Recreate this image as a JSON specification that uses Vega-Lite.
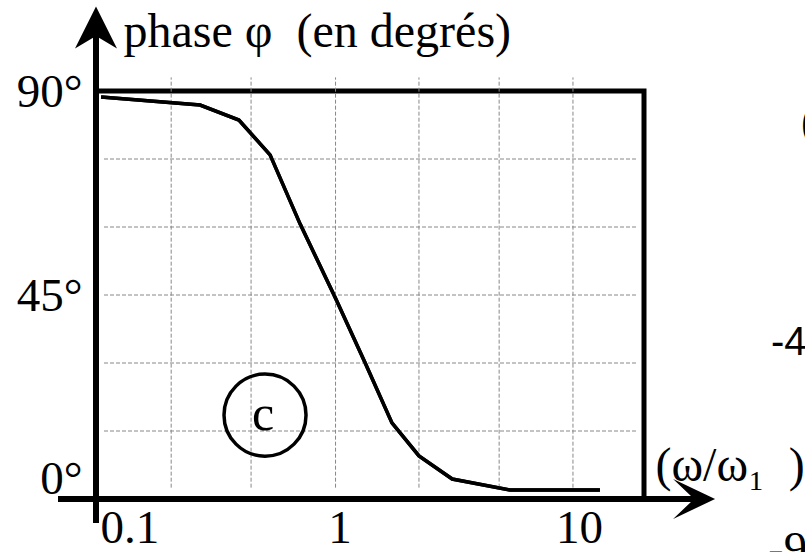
{
  "$schema": "https://vega.github.io/schema/vega-lite/v6.json",
  "width": 548,
  "height": 408,
  "autosize": {"type": "none"},
  "padding": {"left": 96, "top": 91, "right": 161, "bottom": 53},
  "background": "white",
  "config": {
    "view": {"stroke": "black", "strokeWidth": 5},
    "font": "Liberation Serif"
  },
  "datasets": {
    "curve": [
      {"x": 0.105, "y": 88.7}, {"x": 0.272, "y": 86.9}, {"x": 0.395, "y": 83.6},
      {"x": 0.533, "y": 75.9}, {"x": 0.711, "y": 60.7}, {"x": 1.0, "y": 44.3},
      {"x": 1.33, "y": 30.0}, {"x": 1.72, "y": 16.8}, {"x": 2.23, "y": 9.5},
      {"x": 3.07, "y": 4.4}, {"x": 5.35, "y": 2.0}, {"x": 12.7, "y": 2.0}
    ],
    "vgrid": [{"x": 0.206}, {"x": 0.444}, {"x": 1.0}, {"x": 2.23}, {"x": 4.82}, {"x": 9.8}],
    "hgrid": [{"y": 15}, {"y": 30}, {"y": 45}, {"y": 60}, {"y": 75}],
    "arrows": [{"x": 31.4, "y": 0, "dir": "right"}, {"x": 0.1, "y": 104, "dir": "up"}],
    "mark_c": [{"x": 0.5077, "y": 18.5, "t": "c"}],
    "serif_notes": [{"x": 87.8, "y": 79.9, "t": "("}, {"x": 63.9, "y": -14.3, "t": "-90°"}],
    "sans_notes": [{"x": 65.8, "y": 31.8, "t": "-45°"}]
  },
  "layer": [
    {
      "data": {"name": "curve"},
      "mark": {"type": "line", "color": "black", "strokeWidth": 3.5},
      "encoding": {
        "x": {
          "field": "x", "type": "quantitative",
          "scale": {"type": "log", "domain": [0.1, 19.4], "nice": false, "zero": false},
          "axis": {
            "values": [0.1, 1, 10], "format": "~g",
            "domain": false, "ticks": false, "tickSize": 0, "grid": false,
            "labelFont": "Liberation Serif", "labelFontSize": 47, "labelColor": "black",
            "labelPadding": 6, "labelOffset": 4, "labelFlush": true, "labelOverlap": false, "labelBound": false,
            "title": "(ω/ω₁\u00a0\u00a0)", "titleFont": "Liberation Serif", "titleFontSize": 48,
            "titleFontWeight": "normal", "titleColor": "black",
            "titleX": 559, "titleY": -19, "titleAlign": "left", "titleBaseline": "alphabetic"
          }
        },
        "y": {
          "field": "y", "type": "quantitative",
          "scale": {"domain": [0, 90], "nice": false, "zero": false},
          "axis": {
            "values": [0, 45, 90], "labelExpr": "datum.value + '°'",
            "domain": false, "ticks": false, "tickSize": 0, "grid": false,
            "labelFont": "Liberation Serif", "labelFontSize": 47, "labelColor": "black",
            "labelPadding": 14, "labelOverlap": false, "labelBound": false, "labelFlush": false,
            "labelBaseline": {"condition": {"test": "datum.value == 0", "value": "alphabetic"}, "value": "middle"},
            "labelOffset": {"condition": {"test": "datum.value == 0", "value": -6}, "value": 1},
            "title": "phase φ\u00a0\u00a0(en degrés)", "titleFont": "Liberation Serif", "titleFontSize": 48,
            "titleFontWeight": "normal", "titleColor": "black", "titleAngle": 0,
            "titleX": 27, "titleY": -45, "titleAlign": "left", "titleBaseline": "alphabetic"
          }
        }
      }
    },
    {
      "data": {"name": "hgrid"},
      "mark": {"type": "rule", "color": "#888888", "strokeWidth": 1, "strokeDash": [4, 2]},
      "encoding": {
        "y": {"field": "y", "type": "quantitative"},
        "x": {"datum": 0.108},
        "x2": {"datum": 18.2}
      }
    },
    {
      "data": {"name": "vgrid"},
      "mark": {"type": "rule", "color": "#888888", "strokeWidth": 1, "strokeDash": [4, 2]},
      "encoding": {
        "x": {"field": "x", "type": "quantitative"},
        "y": {"datum": 2.5},
        "y2": {"datum": 93}
      }
    },
    {
      "data": {"name": "curve"},
      "mark": {"type": "line", "color": "black", "strokeWidth": 3.5},
      "encoding": {
        "x": {"field": "x", "type": "quantitative"},
        "y": {"field": "y", "type": "quantitative"}
      }
    },
    {
      "data": {"values": [{}]},
      "mark": {"type": "rule", "color": "black", "strokeWidth": 6},
      "encoding": {
        "x": {"datum": 0.0694},
        "x2": {"datum": 33.3},
        "y": {"datum": 0}
      }
    },
    {
      "data": {"values": [{}]},
      "mark": {"type": "rule", "color": "black", "strokeWidth": 6},
      "encoding": {
        "x": {"datum": 0.1},
        "y": {"datum": -5.3},
        "y2": {"datum": 103.5}
      }
    },
    {
      "data": {"name": "arrows"},
      "mark": {"type": "point", "filled": true, "color": "black", "opacity": 1, "size": 1764, "strokeWidth": 0},
      "encoding": {
        "x": {"field": "x", "type": "quantitative"},
        "y": {"field": "y", "type": "quantitative"},
        "shape": {
          "field": "dir", "type": "nominal",
          "scale": {"domain": ["right", "up"], "range": ["M1,0L-1,-0.95L0,0L-1,0.95Z", "M0,-1L-1,1L0,0.4L1,1Z"]},
          "legend": null
        }
      }
    },
    {
      "data": {"name": "mark_c"},
      "mark": {"type": "point", "shape": "circle", "filled": false, "color": "black", "opacity": 1, "size": 6724, "strokeWidth": 3.5},
      "encoding": {
        "x": {"field": "x", "type": "quantitative"},
        "y": {"field": "y", "type": "quantitative"}
      }
    },
    {
      "data": {"name": "mark_c"},
      "mark": {"type": "text", "font": "Liberation Serif", "fontSize": 50, "color": "black", "align": "center", "baseline": "alphabetic", "dx": -2, "dy": 15},
      "encoding": {
        "x": {"field": "x", "type": "quantitative"},
        "y": {"field": "y", "type": "quantitative"},
        "text": {"field": "t"}
      }
    },
    {
      "data": {"name": "serif_notes"},
      "mark": {"type": "text", "font": "Liberation Serif", "fontSize": 47, "color": "black", "align": "left", "baseline": "alphabetic"},
      "encoding": {
        "x": {"field": "x", "type": "quantitative"},
        "y": {"field": "y", "type": "quantitative"},
        "text": {"field": "t"}
      }
    },
    {
      "data": {"name": "sans_notes"},
      "mark": {"type": "text", "font": "Liberation Sans", "fontSize": 40, "color": "black", "align": "left", "baseline": "alphabetic"},
      "encoding": {
        "x": {"field": "x", "type": "quantitative"},
        "y": {"field": "y", "type": "quantitative"},
        "text": {"field": "t"}
      }
    }
  ]
}
